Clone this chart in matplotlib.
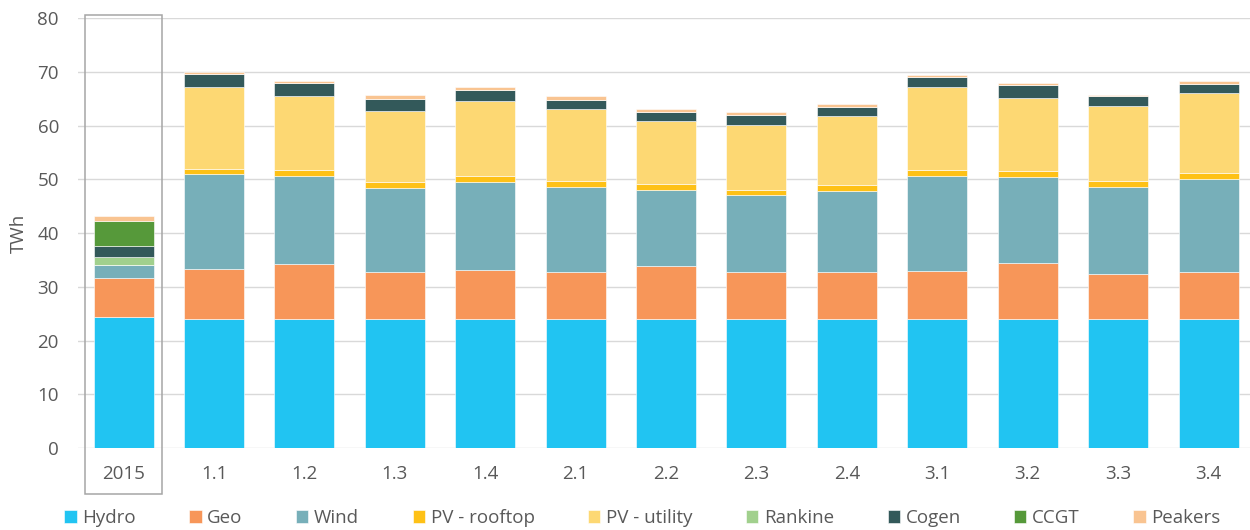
import matplotlib
matplotlib.use("Agg")
import matplotlib.pyplot as plt
from matplotlib.patches import Rectangle
import numpy as np

plt.rcParams['font.family'] = ['Open Sans', 'DejaVu Sans']

# Scenarios (2015 actual + modelled scenarios)
categories = ["2015", "1.1", "1.2", "1.3", "1.4", "2.1", "2.2", "2.3", "2.4",
              "3.1", "3.2", "3.3", "3.4"]

# Generation by source, TWh
hydro      = [24.3, 24.0, 24.0, 24.0, 24.0, 24.0, 24.0, 24.0, 24.0, 24.0, 24.0, 24.0, 24.0]
geo        = [7.3, 9.3, 10.3, 8.7, 9.1, 8.8, 9.8, 8.7, 8.7, 8.9, 10.4, 8.3, 8.7]
wind       = [2.5, 17.7, 16.3, 15.6, 16.3, 15.7, 14.2, 14.3, 15.1, 17.8, 16.1, 16.3, 17.4]
pv_rooftop = [0.0, 1.0, 1.1, 1.1, 1.2, 1.1, 1.1, 1.0, 1.1, 1.0, 1.1, 1.0, 1.1]
pv_utility = [0.0, 15.2, 13.8, 13.3, 13.9, 13.4, 11.7, 12.1, 12.8, 15.5, 13.6, 14.0, 14.8]
rankine    = [1.4, 0, 0, 0, 0, 0, 0, 0, 0, 0, 0, 0, 0]
cogen      = [2.1, 2.3, 2.4, 2.2, 2.1, 1.8, 1.8, 1.8, 1.7, 1.8, 2.4, 1.8, 1.8]
ccgt       = [4.6, 0, 0, 0, 0, 0, 0, 0, 0, 0, 0, 0, 0]
peakers    = [0.9, 0.5, 0.4, 0.7, 0.5, 0.6, 0.4, 0.6, 0.6, 0.4, 0.4, 0.3, 0.5]

series = [
    ("Hydro", hydro, "#21C4F2"),
    ("Geo", geo, "#F79659"),
    ("Wind", wind, "#77AFB9"),
    ("PV - rooftop", pv_rooftop, "#FEC116"),
    ("PV - utility", pv_utility, "#FDD873"),
    ("Rankine", rankine, "#A1D08D"),
    ("Cogen", cogen, "#33595A"),
    ("CCGT", ccgt, "#56993A"),
    ("Peakers", peakers, "#F9C491"),
]

text_color = "#595959"
fs = 13.5

fig = plt.figure(figsize=(12.5, 5.3), dpi=100)
ax = fig.add_axes([0.0627, 0.1547, 0.9403, 0.8113])

x = np.arange(len(categories))
bottom = np.zeros(len(categories))
for name, vals, color in series:
    vals = np.asarray(vals, dtype=float)
    ax.bar(x, vals, width=0.664, bottom=bottom, color=color, label=name,
           edgecolor="white", linewidth=0.4, zorder=3)
    bottom += vals

ax.set_xlim(-0.5, len(categories) - 0.5)
ax.set_ylim(0, 80)
ax.set_yticks(np.arange(0, 81, 10))
ax.set_xticks(x)
ax.set_xticklabels(categories)
ax.yaxis.grid(True, color="#D9D9D9", linewidth=1.0, zorder=0)
ax.set_axisbelow(True)
for s in ax.spines.values():
    s.set_visible(False)
ax.tick_params(axis="both", length=0, labelsize=fs, colors=text_color)
ax.tick_params(axis="x", pad=12.5)
ax.tick_params(axis="y", pad=14)
ax.set_ylabel("TWh", fontsize=fs, color=text_color, labelpad=7)

# Box highlighting the 2015 column
ax.add_patch(Rectangle((-0.423, -8.6), 0.846, 89.2, fill=False,
                       edgecolor="#A6A6A6", linewidth=1.1, clip_on=False, zorder=5))

leg = fig.legend(loc="center", bbox_to_anchor=(0.514, 0.0226), ncol=9,
                 frameon=False, fontsize=fs, handlelength=0.65, handleheight=0.65,
                 handletextpad=0.31, columnspacing=2.85, borderaxespad=0)
for t in leg.get_texts():
    t.set_color(text_color)

fig.savefig("out.png", dpi=100)
